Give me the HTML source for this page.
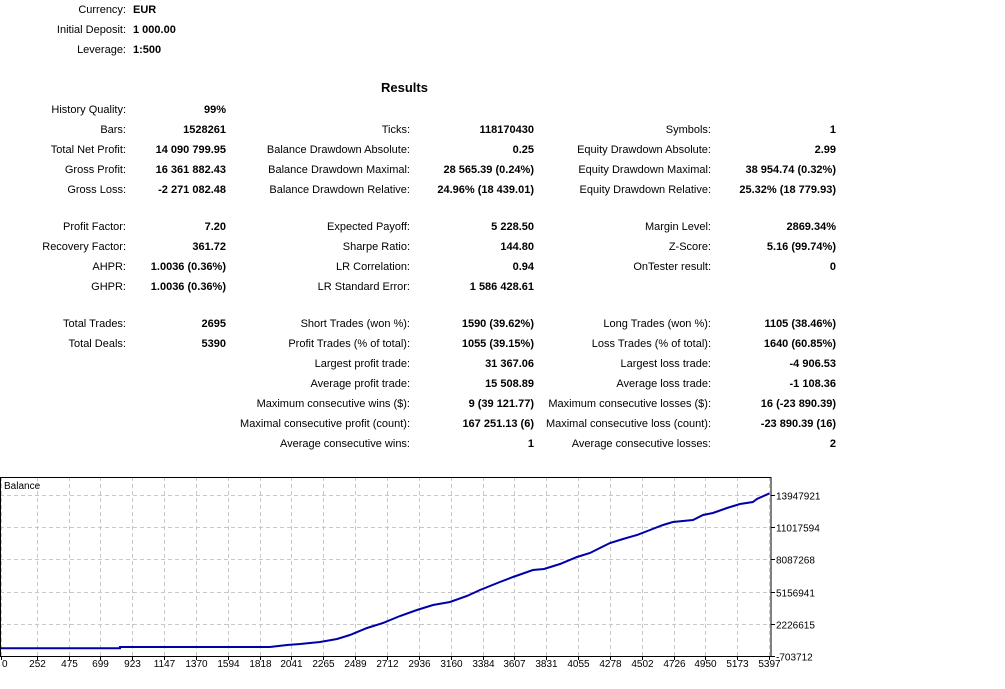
<!DOCTYPE html>
<html><head><meta charset="utf-8"><style>
body{margin:0;width:1005px;height:689px;background:#fff;font-family:"Liberation Sans",sans-serif;font-size:11px;color:#000;position:relative;overflow:hidden}
.t{position:absolute;line-height:14px;white-space:nowrap}
.b{font-weight:bold}
</style></head><body>
<div id="report"></div>
<svg id="chart" width="1005" height="689" style="position:absolute;left:0;top:0"></svg>
<script>
const rep=document.getElementById('report');
function put(text,x,y,align,bold,name){
  const d=document.createElement('div');
  d.className='t'+(bold?' b':'');
  d.textContent=text;
  d.style.top=(y-6)+'px';
  if(align==='r')d.style.right=(1005-x)+'px';else d.style.left=x+'px';
  
  
  rep.appendChild(d);
}
const header=[["Currency:","EUR",9],["Initial Deposit:","1 000.00",29],["Leverage:","1:500",49]];
header.forEach(h=>{put(h[0],126,h[2],'r',false,'header-label');put(h[1],133,h[2],'l',true,'header-value');});
const rt=document.createElement('div');rt.className='t b';rt.textContent='Results';rt.style.fontSize='13px';rt.style.left='381px';rt.style.top='81px';


rep.appendChild(rt);
const cols=[[126,226],[410,534],[711,836]];
const rows=[
[109,["History Quality:","99%"],null,null],
[129,["Bars:","1528261"],["Ticks:","118170430"],["Symbols:","1"]],
[149,["Total Net Profit:","14 090 799.95"],["Balance Drawdown Absolute:","0.25"],["Equity Drawdown Absolute:","2.99"]],
[169,["Gross Profit:","16 361 882.43"],["Balance Drawdown Maximal:","28 565.39 (0.24%)"],["Equity Drawdown Maximal:","38 954.74 (0.32%)"]],
[189,["Gross Loss:","-2 271 082.48"],["Balance Drawdown Relative:","24.96% (18 439.01)"],["Equity Drawdown Relative:","25.32% (18 779.93)"]],
[226,["Profit Factor:","7.20"],["Expected Payoff:","5 228.50"],["Margin Level:","2869.34%"]],
[246,["Recovery Factor:","361.72"],["Sharpe Ratio:","144.80"],["Z-Score:","5.16 (99.74%)"]],
[266,["AHPR:","1.0036 (0.36%)"],["LR Correlation:","0.94"],["OnTester result:","0"]],
[286,["GHPR:","1.0036 (0.36%)"],["LR Standard Error:","1 586 428.61"],null],
[323,["Total Trades:","2695"],["Short Trades (won %):","1590 (39.62%)"],["Long Trades (won %):","1105 (38.46%)"]],
[343,["Total Deals:","5390"],["Profit Trades (% of total):","1055 (39.15%)"],["Loss Trades (% of total):","1640 (60.85%)"]],
[363,null,["Largest profit trade:","31 367.06"],["Largest loss trade:","-4 906.53"]],
[383,null,["Average profit trade:","15 508.89"],["Average loss trade:","-1 108.36"]],
[403,null,["Maximum consecutive wins ($):","9 (39 121.77)"],["Maximum consecutive losses ($):","16 (-23 890.39)"]],
[423,null,["Maximal consecutive profit (count):","167 251.13 (6)"],["Maximal consecutive loss (count):","-23 890.39 (16)"]],
[443,null,["Average consecutive wins:","1"],["Average consecutive losses:","2"]]
];
rows.forEach(r=>{for(let c=0;c<3;c++){const e=r[c+1];if(!e)continue;
put(e[0],cols[c][0],r[0],'r',false,'stat-label');put(e[1],cols[c][1],r[0],'r',true,'stat-value');}});

// chart data
const xTicks=[0,252,475,699,923,1147,1370,1594,1818,2041,2265,2489,2712,2936,3160,3384,3607,3831,4055,4278,4502,4726,4950,5173,5397];
const yTicks=[-703712,2226615,5156941,8087268,11017594,13947921];
const dealIdx=[0,836,836,1890,2010,2101,2242,2361,2452,2572,2684,2804,2923,3036,3155,3275,3366,3506,3598,3738,3816,3928,4048,4139,4209,4280,4371,4469,4561,4652,4722,4863,4933,5003,5102,5193,5284,5312,5400];
const balance=[1000,1000,115000,115000,297000,388000,570000,843000,1207000,1844000,2299000,2936000,3482000,3937000,4210000,4757000,5303000,6031000,6486000,7123000,7214000,7669000,8306000,8670000,9125000,9580000,9944000,10308000,10763000,11218000,11491000,11673000,12128000,12310000,12765000,13129000,13311000,13584000,14091800];

const svg=document.getElementById('chart');const NS='http://www.w3.org/2000/svg';
const L=0,R=771,T=477,B=656;
const px=v=>1+v*(768/5397);
const py=v=>B-(v-(-703712))/(13947921-(-703712))*(B-495);
function el(tag,attrs,name){const e=document.createElementNS(NS,tag);for(const k in attrs)e.setAttribute(k,attrs[k]);


svg.appendChild(e);return e;}
xTicks.forEach(v=>{const x=Math.round(px(v))+0.5;
 el('line',{x1:x,y1:T,x2:x,y2:B,stroke:'#c8c8c8','stroke-dasharray':'4,3'},'x-grid');
 el('line',{x1:x,y1:B,x2:x,y2:B+4,stroke:'#000'},'x-tick');
 const t=el('text',{x:x,y:B+11,'font-size':'10','text-anchor':v===0?'start':'middle','font-family':'Liberation Sans, sans-serif'},'x-tick-label');
 if(v===0)t.setAttribute('x',2);t.textContent=v;});
yTicks.forEach(v=>{const y=Math.round(py(v))+0.5;
 el('line',{x1:L,y1:y,x2:R,y2:y,stroke:'#c8c8c8','stroke-dasharray':'4,3'},'y-grid');
 el('line',{x1:R,y1:y,x2:R+4,y2:y,stroke:'#000'},'y-tick');
 const t=el('text',{x:R+5,y:y+4,'font-size':'10','font-family':'Liberation Sans, sans-serif'},'y-tick-label');t.textContent=v;});
el('rect',{x:0.5,y:T+0.5,width:R-0.5,height:B-T,fill:'none',stroke:'#000'},'plot-frame');
const lt=el('text',{x:4,y:T+12,'font-size':'10','font-family':'Liberation Sans, sans-serif'},'chart-title');lt.textContent='Balance';
el('polyline',{points:dealIdx.map((d,i)=>px(d).toFixed(1)+','+py(balance[i]).toFixed(1)).join(' '),fill:'none',stroke:'#0000a8','stroke-width':2},'balance-line');
</script>
</body></html>
